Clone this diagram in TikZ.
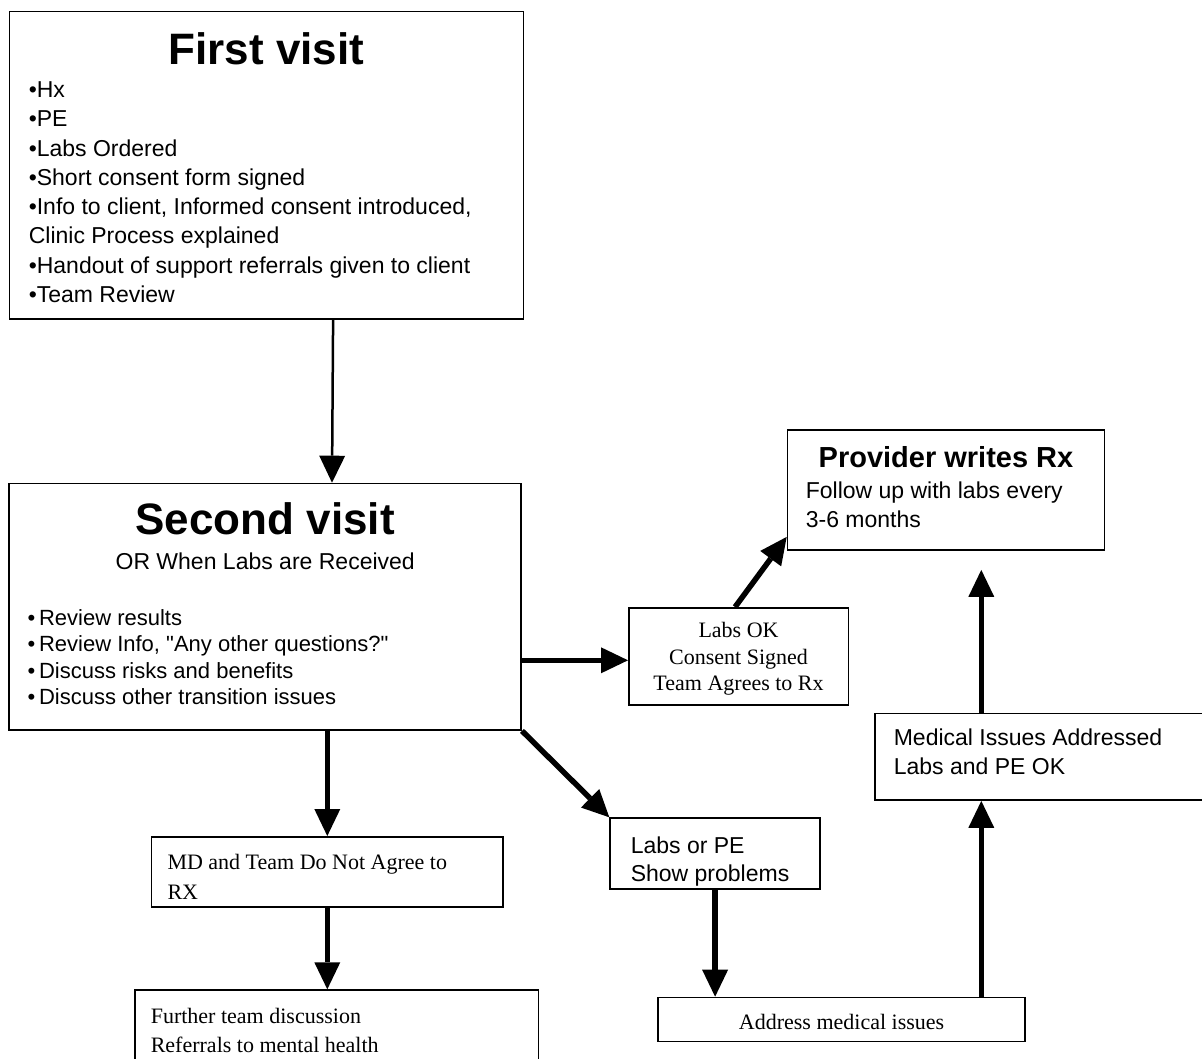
\documentclass[tikz,border=0pt]{standalone}
\usepackage{fontspec}
\setmainfont{Liberation Serif}
\setsansfont{Liberation Sans}
\usetikzlibrary{arrows.meta}

\newcommand{\fixspaces}{\spaceskip=\fontdimen2\font\relax\xspaceskip=\fontdimen2\font\relax}
\newcommand{\bigtitle}{\sffamily\bfseries\fontsize{44}{48}\selectfont\fixspaces}
\newcommand{\sansat}[2]{\sffamily\fontsize{#1}{#2}\selectfont\fixspaces}
\newcommand{\serifat}[2]{\rmfamily\fontsize{#1}{#2}\selectfont\fixspaces}

\tikzset{
    box/.style={draw, line width=1.6pt, inner sep=0pt, anchor=north west, align=left},
    thinarrow/.style={line width=2.5pt, -{Triangle[length=27pt,width=26pt,line width=0pt]}},
    fatarrow/.style={line width=5.5pt, -{Triangle[length=27pt,width=26pt,line width=0pt]}}
}

\begin{document}
\begin{tikzpicture}[x=1pt,y=-1pt]
\useasboundingbox (0,0) rectangle (1202,1059);
\fill[white] (0,0) rectangle (1202,1059);
\clip (0,0) rectangle (1202,1059);

% visits
\node[box, minimum width=514pt, text width=475pt, text height=53.3pt, text depth=254.3pt] (first) at (8.5,10.7)
    {{\centering\bigtitle First visit\par}\vspace{3.4pt}
     \sansat{23}{29.3}•Hx\\•PE\\•Labs Ordered\\•Short consent form signed\\•Info to client, Informed consent introduced,\\Clinic Process explained\\•Handout of support referrals given to client\\•Team Review\par};
\node[box, minimum width=512pt, text width=475pt, text height=51.3pt, text depth=195.3pt] (second) at (8.4,482.7)
    {{\centering\bigtitle Second visit\par}
     {\centering\sansat{23}{34.3}OR When Labs are Received\par}\vspace{30.6pt}
     \sansat{22}{26.1}•\,Review results\\•\,Review Info, \textquotedbl Any other questions?\textquotedbl\\•\,Discuss risks and benefits\\•\,Discuss other transition issues\par};

% good labs
\node[box, minimum width=219.5pt, text width=200pt, align=center, text height=29.7pt, text depth=67.3pt] (labsok) at (628,607)
    {\serifat{22}{26.7}Labs OK\\Consent Signed\\Team Agrees to Rx\par};
\node[box, minimum width=317pt, text width=280.4pt, text height=37.4pt, text depth=82.6pt] (provider) at (786.7,429.3)
    {{\centering\sansat{29}{30}\bfseries Provider writes Rx\par}\vspace{2.6pt}
     \sansat{23}{28.7}Follow up with labs every\\3-6 months\par};

% problems
\node[box, minimum width=210pt, text width=168.6pt, text height=35pt, text depth=36pt] (labspe) at (609.3,817.3)
    {\sansat{23}{28.7}Labs or PE\\Show problems\par};
\node[box, minimum width=367pt, text width=340pt, align=center, text height=31.6pt, text depth=12.4pt] (address) at (657.3,996.7)
    {\serifat{22}{26}Address medical issues\par};
\node[box, minimum width=360pt, text width=322.8pt, text height=32.3pt, text depth=54.3pt] (medical) at (874.4,712.7)
    {\sansat{23}{28.3}Medical Issues Addressed\\Labs and PE OK\par};

% no rx
\node[box, minimum width=351.6pt, text width=319.6pt, text height=32.3pt, text depth=37.7pt] (md) at (150.7,836)
    {\serifat{22}{30}MD and Team Do Not Agree to\\RX\par};
\node[box, minimum width=403.7pt, text width=371.7pt, text height=33.7pt, text depth=120pt] (further) at (134,989.3)
    {\serifat{22}{29}Further team discussion\\Referrals to mental health\par};

\coordinate (okin) at ([yshift=-4pt]labsok.west);
\coordinate (up) at ([xshift=139.7pt]address.north);
\coordinate (rxbase) at (up |- provider.south);
\coordinate (rxgap) at ([yshift=-19pt]rxbase);

\draw[thinarrow] ([xshift=66.8pt]first.south) -- ([xshift=66.8pt]second.north);
\draw[fatarrow] (second.east |- okin) -- (okin);
\draw[fatarrow] ([xshift=-3.5pt]labsok.north) -- ([yshift=14pt]provider.south west);
\draw[fatarrow] (second.south east) -- (labspe.north west);
\draw[fatarrow] (second.south -| md.north) -- (md.north);
\draw[fatarrow] (md.south) -- (further.north -| md.south);
\draw[fatarrow] (labspe.south) -- (address.north -| labspe.south);
\draw[fatarrow] (up) -- (up |- medical.south);
\draw[fatarrow] (up |- medical.north) -- (rxgap);
\end{tikzpicture}
\end{document}
